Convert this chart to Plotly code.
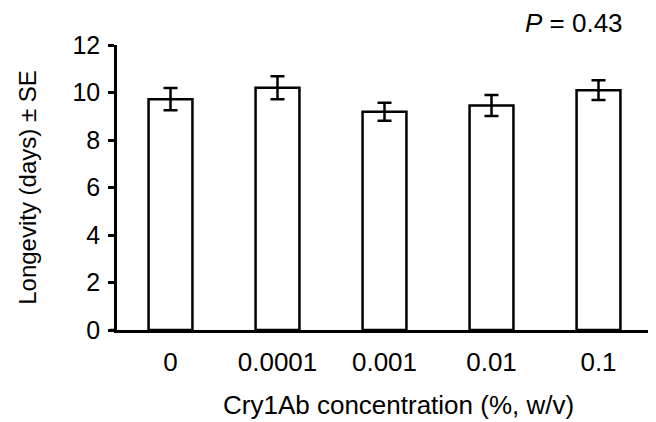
import plotly.graph_objects as go

categories = ["0", "0.0001", "0.001", "0.01", "0.1"]
longevity = [9.72, 10.2, 9.19, 9.45, 10.1]
se = [0.47, 0.48, 0.38, 0.44, 0.42]
y_ticks = [0, 2, 4, 6, 8, 10, 12]

FONT = "Liberation Sans, Arial, Helvetica, sans-serif"

# page body has an 8px margin, so the figure is 8px smaller and margins shifted
fig = go.Figure()
fig.add_trace(go.Bar(
    x=categories, y=longevity, width=0.41,
    marker=dict(color="white", line=dict(color="black", width=2.5)),
    error_y=dict(type="data", array=se, visible=True, color="black",
                 thickness=2.5, width=7),
))

fig.update_layout(
    width=648, height=414,
    margin=dict(l=109, r=4, t=37, b=92),
    plot_bgcolor="white", paper_bgcolor="white",
    font=dict(family=FONT, size=24, color="black"),
    showlegend=False,
    xaxis=dict(showline=True, linecolor="black", linewidth=2.5,
               ticks="", showgrid=False, zeroline=False,
               range=[-0.5, 4.5], ticklabelstandoff=7,
               tickfont=dict(size=26)),
    yaxis=dict(range=[0, 12], tickvals=y_ticks, showline=True,
               linecolor="black", linewidth=2.5, ticks="outside",
               ticklen=6, tickwidth=2.5, tickcolor="black",
               showgrid=False, zeroline=False, ticklabelstandoff=3,
               tickfont=dict(size=25),
               title=dict(text="Longevity (days) ± SE", standoff=30,
                          font=dict(size=24))),
)

fig.add_shape(type="line", xref="paper", yref="y", x0=-7/535, x1=0, y0=0, y1=0,
              line=dict(color="black", width=2.5))

fig.add_annotation(text="<i>P</i> = 0.43", xref="paper", yref="paper",
                   x=(625 - 117) / 535, y=(330 - 23) / 285,
                   xanchor="right", yanchor="middle", showarrow=False,
                   font=dict(size=26))
fig.add_annotation(text="Cry1Ab concentration (%, w/v)", xref="paper", yref="paper",
                   x=(398 - 117) / 535, y=(330 - 405) / 285,
                   xanchor="center", yanchor="middle", showarrow=False,
                   font=dict(size=26))

fig.write_html("out.html")
